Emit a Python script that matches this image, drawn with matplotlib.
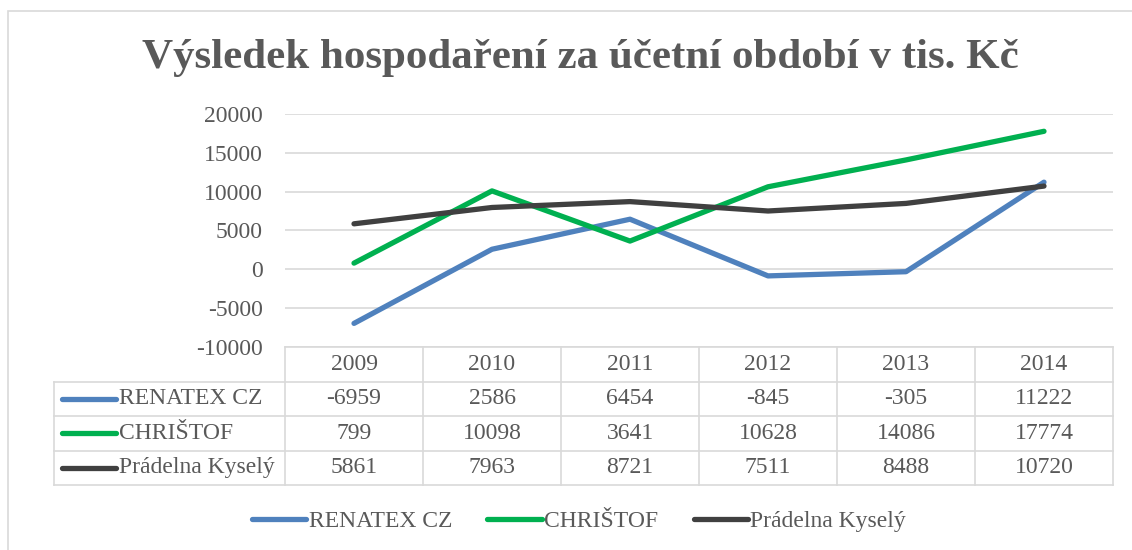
import matplotlib.pyplot as plt
from matplotlib.lines import Line2D
from matplotlib.patches import Rectangle
import matplotlib.transforms as mtransforms

years = ['2009', '2010', '2011', '2012', '2013', '2014']
series_names = ['RENATEX CZ', 'CHRIŠTOF', 'Prádelna Kyselý']
renatex = [-6959, 2586, 6454, -845, -305, 11222]
christof = [799, 10098, 3641, 10628, 14086, 17774]
pradelna = [5861, 7963, 8721, 7511, 8488, 10720]
colors = ['#4f81bd', '#00b050', '#404040']
title = 'Výsledek hospodaření za účetní období v tis. Kč'

W, H = 1132, 550
TXT = '#595959'
GRID = '#d9d9d9'
plt.rcParams['font.family'] = ['Liberation Serif', 'DejaVu Serif']
plt.rcParams['axes.unicode_minus'] = False

fig = plt.figure(figsize=(W / 100, H / 100), dpi=100)


def fx(px):
    return px / W


def fy(py):
    return 1 - py / H


# chart frame (right and bottom edges fall outside the picture)
fig.patches.append(Rectangle((fx(8), fy(560)), fx(1140), fy(11) - fy(560),
                             transform=fig.transFigure, fill=False,
                             edgecolor=GRID, lw=1.2))

fig.text(fx(580), fy(58), title, ha='center', va='center', fontsize=31,
         fontweight='bold', color=TXT)

ax_left, ax_right, ax_top, ax_bot = 285, 1113, 114, 347
ax = fig.add_axes([fx(ax_left), fy(ax_bot), fx(ax_right - ax_left), fy(ax_top) - fy(ax_bot)])
ax.set_xlim(-0.5, len(years) - 0.5)
ax.set_ylim(-10000, 20000)
ax.set_yticks(range(-10000, 20001, 5000))
ax.set_xticks([])
ax.tick_params(axis='y', length=0, pad=16, labelsize=17, labelcolor=TXT)
for s in ax.spines.values():
    s.set_visible(False)
ax.grid(axis='y', color=GRID, lw=1.2)
ax.set_axisbelow(True)

x = list(range(len(years)))
for vals, c, name in zip([renatex, christof, pradelna], colors, series_names):
    ax.plot(x, vals, color=c, lw=3.8, solid_capstyle='round',
            solid_joinstyle='round', label=name, clip_on=False)

# data table
trans = mtransforms.blended_transform_factory(ax.transData, fig.transFigure)
row_h = 34.5
tab_left = 54
rows_top = ax_bot + row_h
tab_bot = ax_bot + row_h * 4

lw_t = 1.2
fig.add_artist(Line2D([fx(ax_left), fx(ax_right)], [fy(ax_bot)] * 2, color=GRID, lw=lw_t))
for i in range(1, 5):
    yy = ax_bot + row_h * i
    fig.add_artist(Line2D([fx(tab_left), fx(ax_right)], [fy(yy)] * 2, color=GRID, lw=lw_t))
fig.add_artist(Line2D([fx(tab_left)] * 2, [fy(rows_top), fy(tab_bot)], color=GRID, lw=lw_t))
for k in range(len(years) + 1):
    xv = -0.5 + k
    ax.add_artist(Line2D([xv, xv], [fy(ax_bot), fy(tab_bot)], color=GRID, lw=lw_t,
                         transform=trans, clip_on=False))

for i, yr in enumerate(years):
    fig.text(i, fy(ax_bot + row_h / 2), yr, transform=trans, ha='center', va='center',
             fontsize=17, color=TXT)

for r, (vals, c, name) in enumerate(zip([renatex, christof, pradelna], colors, series_names)):
    yc = fy(ax_bot + row_h * (r + 1.5))
    fig.add_artist(Line2D([fx(62), fx(116)], [yc, yc], color=c, lw=3.8,
                          solid_capstyle='round'))
    fig.text(fx(119), yc, name, ha='left', va='center', fontsize=17, color=TXT)
    for i, v in enumerate(vals):
        fig.text(i, yc, str(v), transform=trans, ha='center', va='center',
                 fontsize=17, color=TXT)

leg = fig.legend(loc='center', bbox_to_anchor=(fx(579), fy(521)), ncol=3, frameon=False,
                 fontsize=17, handlelength=2.3, handletextpad=0.1, columnspacing=1.5,
                 labelcolor=TXT)
for h in leg.legend_handles:
    h.set_solid_capstyle('round')

fig.savefig('out.png', dpi=100)
